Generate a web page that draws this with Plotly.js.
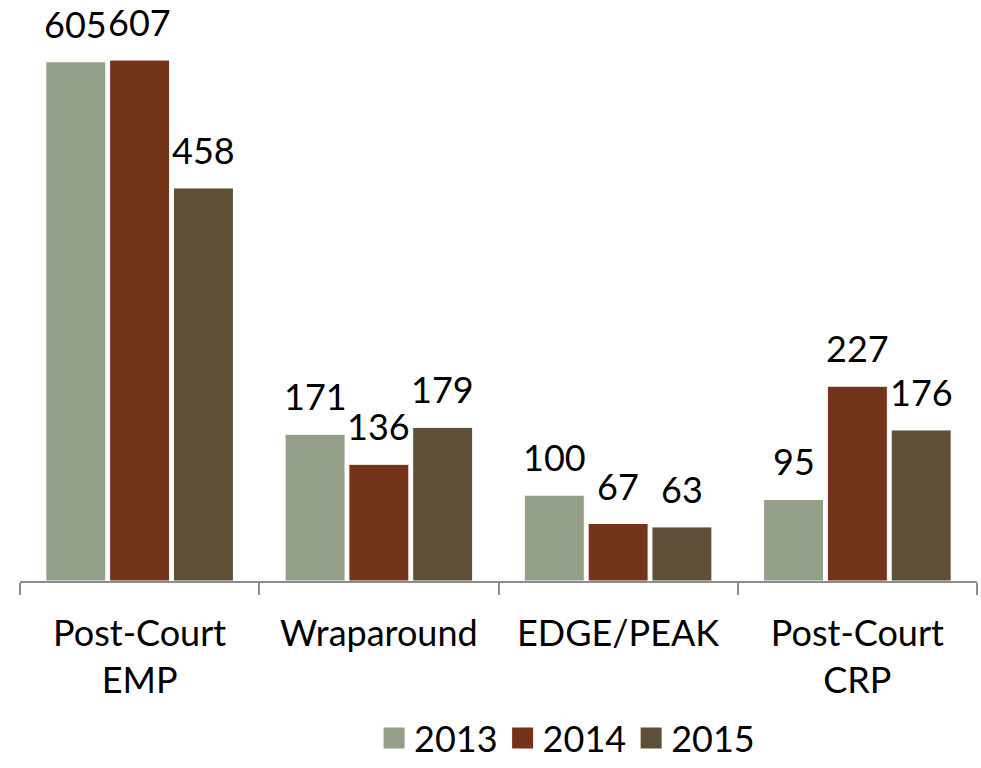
<!DOCTYPE html>
<html>
<head>
<meta charset="utf-8">
<script src="https://cdn.plot.ly/plotly-3.0.1.min.js"></script>
<style>html,body{margin:0;padding:0;background:#fff;}#chart{width:981px;height:768px;}</style>
</head>
<body>
<div id="chart"></div>
<script>
const categories = ["Post-Court<br>EMP", "Wraparound", "EDGE/PEAK", "Post-Court<br>CRP"];
const seriesNames = ["2013", "2014", "2015"];
const values2013 = [605, 171, 100, 95];
const values2014 = [607, 136, 67, 227];
const values2015 = [458, 179, 63, 176];
const colors = ["#949F87", "#73341A", "#5E4F36"];

const allValues = [values2013, values2014, values2015];
const FONT = "Lato, 'Open Sans', sans-serif";
const BARGAP = 0.2;

const traces = [];
allValues.forEach((vals, i) => {
  traces.push({
    type: "bar",
    x: categories,
    y: vals,
    name: seriesNames[i],
    showlegend: false,
    marker: {color: colors[i], line: {color: "#ffffff", width: 1}},
    hoverinfo: "skip"
  });
});
// legend entries (bigger squares than the default bar legend symbol)
allValues.forEach((vals, i) => {
  traces.push({
    type: "scatter",
    mode: "markers",
    x: [null],
    y: [null],
    name: seriesNames[i],
    marker: {symbol: "square", size: 16, color: colors[i], line: {color: colors[i], width: 5}},
    hoverinfo: "skip"
  });
});

// value labels: placed at each bar's centre on the category axis
const nSeries = allValues.length;
const slot = (1 - BARGAP) / nSeries;
const annotations = [];
allValues.forEach((vals, i) => {
  vals.forEach((v, c) => {
    annotations.push({
      xref: "x", yref: "y",
      x: c + (i - (nSeries - 1) / 2) * slot,
      y: v,
      text: String(v),
      showarrow: false,
      xanchor: "center",
      yanchor: "bottom",
      yshift: 14,
      font: {family: FONT, size: 36, color: "#000"}
    });
  });
});

const layout = {
  width: 981,
  height: 768,
  margin: {l: 20, r: 4, t: 0, b: 187, autoexpand: false},
  paper_bgcolor: "#fff",
  plot_bgcolor: "#fff",
  barmode: "group",
  bargap: BARGAP,
  bargroupgap: 0.06,
  font: {family: FONT, size: 36, color: "#000"},
  annotations: annotations,
  xaxis: {
    type: "category",
    automargin: false,
    showline: true,
    linecolor: "#8C8C8C",
    linewidth: 2,
    ticks: "outside",
    tickson: "boundaries",
    ticklen: 12,
    tickwidth: 2,
    tickcolor: "#8C8C8C",
    tickfont: {family: FONT, size: 36, color: "#000"},
    ticklabelstandoff: 20,
    showgrid: false,
    zeroline: false
  },
  yaxis: {
    range: [0, 677],
    visible: false,
    automargin: false,
    showgrid: false,
    zeroline: false
  },
  showlegend: true,
  legend: {
    orientation: "h",
    x: 0.37,
    xanchor: "left",
    yref: "container",
    y: -0.012,
    yanchor: "bottom",
    font: {family: FONT, size: 36, color: "#000"},
    itemwidth: 30,
    bgcolor: "rgba(0,0,0,0)"
  }
};

Plotly.newPlot("chart", traces, layout, {displayModeBar: false, staticPlot: true});
</script>
</body>
</html>
